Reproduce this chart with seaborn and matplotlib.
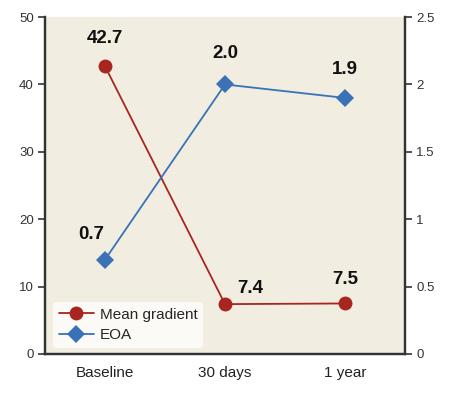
import matplotlib
matplotlib.use("Agg")
import matplotlib.pyplot as plt
import seaborn as sns
import pandas as pd

categories = ["Baseline", "30 days", "1 year"]
gradient = [42.7, 7.4, 7.5]
eoa = [0.7, 2.0, 1.9]
left_ticks = [0, 10, 20, 30, 40, 50]
right_ticks = [0, 0.5, 1, 1.5, 2, 2.5]
right_tick_labels = ["0", "0.5", "1", "1.5", "2", "2.5"]

sns.set_theme(style="white")
plt.rcParams["font.family"] = ["Liberation Sans", "DejaVu Sans"]

red = "#a8261f"
blue = "#3a72b8"
spine = "#333333"
bg = "#f1ede0"

df = pd.DataFrame({"time": categories, "gradient": gradient, "eoa": eoa})

fig = plt.figure(figsize=(4.5, 3.95), dpi=100)
ax = fig.add_axes([0.1, 0.1038, 0.8, 0.853])
ax.set_facecolor(bg)
ax2 = ax.twinx()

sns.lineplot(data=df, x="time", y="gradient", ax=ax, color=red, marker="o",
             markersize=10, linewidth=1.3, markeredgewidth=0, sort=False,
             label="Mean gradient", legend=False)
sns.lineplot(data=df, x="time", y="eoa", ax=ax2, color=blue, marker="D",
             markersize=9, linewidth=1.3, markeredgewidth=0, sort=False,
             label="EOA", legend=False)

ax.set_xlim(-0.5, 2.5)
ax.set_ylim(0, 50)
ax2.set_ylim(0, 2.5)
ax.set_yticks(left_ticks)
ax2.set_yticks(right_ticks)
ax2.set_yticklabels(right_tick_labels)
ax.set_xlabel("")
ax.set_ylabel("")
ax2.set_ylabel("")

for a in (ax, ax2):
    a.spines["top"].set_visible(False)
    for s in ("left", "right", "bottom"):
        a.spines[s].set_color(spine)
        a.spines[s].set_linewidth(1.6)
    a.tick_params(axis="y", length=5, width=1.2, color=spine, labelsize=9.5,
                  labelcolor="#333333", pad=3)
ax.tick_params(axis="x", length=0, labelsize=11, labelcolor="#222222", pad=9)
ax.tick_params(axis="y", left=True)
ax2.tick_params(axis="y", right=True)

lab = dict(fontsize=13.5, fontweight="bold", color="#111111", ha="center",
           textcoords="offset points")
ax.annotate(f"{gradient[0]:.1f}", (0, gradient[0]), xytext=(0, 17), **lab)
ax.annotate(f"{gradient[1]:.1f}", (1, gradient[1]), xytext=(18, 8), **lab)
ax.annotate(f"{gradient[2]:.1f}", (2, gradient[2]), xytext=(0, 14), **lab)
ax2.annotate(f"{eoa[0]:.1f}", (0, eoa[0]), xytext=(-10, 15), **lab)
ax2.annotate(f"{eoa[1]:.1f}", (1, eoa[1]), xytext=(0, 19), **lab)
ax2.annotate(f"{eoa[2]:.1f}", (2, eoa[2]), xytext=(0, 17), **lab)

h1, l1 = ax.get_legend_handles_labels()
h2, l2 = ax2.get_legend_handles_labels()
leg = ax2.legend(h1 + h2, l1 + l2, loc="lower left", bbox_to_anchor=(0.01, 0.005),
                 borderaxespad=0.3, frameon=True, fontsize=11, handlelength=2.3,
                 borderpad=0.35, labelspacing=0.45, handletextpad=0.4)
leg.get_frame().set_facecolor("#fbfaf6")
leg.get_frame().set_edgecolor("none")
leg.get_frame().set_alpha(1)

fig.savefig("out.png", dpi=100, facecolor="white")
